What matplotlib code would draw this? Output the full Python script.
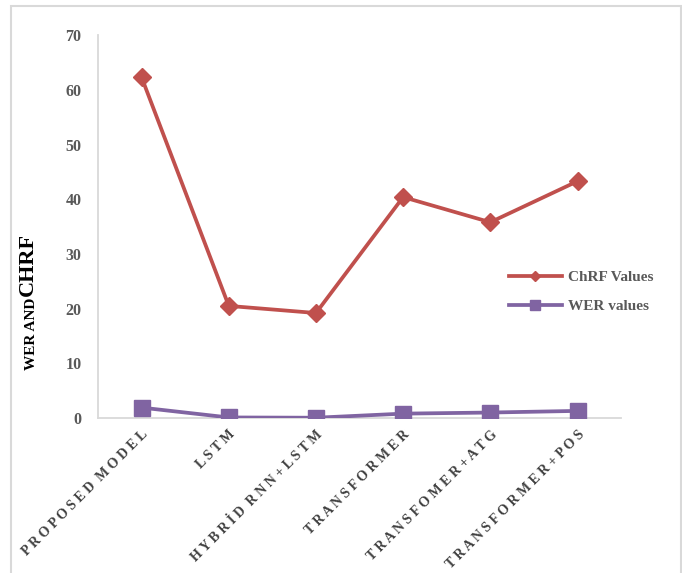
import matplotlib.pyplot as plt
from matplotlib.patches import Rectangle
from matplotlib.lines import Line2D

# Model comparison: ChRF and WER
modelos = ["PROPOSED MODEL", "LSTM", "HYBRİD RNN+LSTM", "TRANSFORMER",
           "TRANSFOMER+ATG", "TRANSFORMER+POS"]
chrf = [62.3, 20.5, 19.2, 40.4, 35.8, 43.3]
wer = [1.9, 0.1, 0.05, 0.8, 1.0, 1.3]
yticks = [0, 10, 20, 30, 40, 50, 60, 70]

ROJO = "#C0504D"
MORADO = "#8064A2"
GRIS = "#595959"
SERIF = ["Liberation Serif", "DejaVu Serif"]

fig = plt.figure(figsize=(6.82, 5.73), dpi=100)
ax = fig.add_axes([0.1437, 0.2705, 0.767, 0.668])

# marco gris alrededor del gráfico
fig.patches.append(Rectangle((11 / 682, -0.01), 670 / 682, 1 - 6 / 573 + 0.01,
                             transform=fig.transFigure, fill=False,
                             edgecolor="#D9D9D9", linewidth=1.5))

x = range(len(modelos))
ax.plot(x, chrf, color=ROJO, linewidth=2.7, marker="D", markersize=9.5,
        label="ChRF Values", zorder=3)
ax.plot(x, wer, color=MORADO, linewidth=2.7, marker="s", markersize=12,
        label="WER values", zorder=3)

ax.set_xlim(-0.5, len(modelos) - 0.5)
ax.set_ylim(0, 70)
ax.set_yticks(yticks)
ax.set_yticklabels([str(v) for v in yticks], family=SERIF, fontweight="bold",
                   fontsize=11.5, color=GRIS)
ax.tick_params(axis="y", length=0, pad=12)
ax.tick_params(axis="x", length=0, pad=7)

# etiquetas espaciadas letra por letra
espaciadas = [" ".join(m).replace("   ", "  ") for m in modelos]
ax.set_xticks(list(x))
ax.set_xticklabels(espaciadas, rotation=45, ha="right", rotation_mode="anchor",
                   family=SERIF, fontweight="bold", fontsize=10, color="#404040")

for lado in ["top", "right"]:
    ax.spines[lado].set_visible(False)
for lado in ["left", "bottom"]:
    ax.spines[lado].set_color("#D9D9D9")
    ax.spines[lado].set_linewidth(1.3)

# título del eje y en dos tamaños, con la misma línea base
fig.text(38 / 682, 1 - 370 / 573, "WER AND", rotation=90, ha="right",
         va="bottom", family=SERIF, fontweight="bold", fontsize=11, color="black")
fig.text(38 / 682, 1 - 296 / 573, "CHRF", rotation=90, ha="right",
         va="bottom", family=SERIF, fontweight="bold", fontsize=16, color="black")

handles = [Line2D([], [], color=ROJO, linewidth=2.7, marker="D", markersize=5),
           Line2D([], [], color=MORADO, linewidth=2.7, marker="s", markersize=7.5)]
fig.legend(handles, ["ChRF Values", "WER values"], loc="center left",
           bbox_to_anchor=(495 / 682, 1 - 292 / 573), frameon=False,
           prop={"family": SERIF, "weight": "bold", "size": 11},
           labelcolor=GRIS, handlelength=3.5, handletextpad=0.4,
           labelspacing=1.0)

fig.savefig("out.png", dpi=100)
